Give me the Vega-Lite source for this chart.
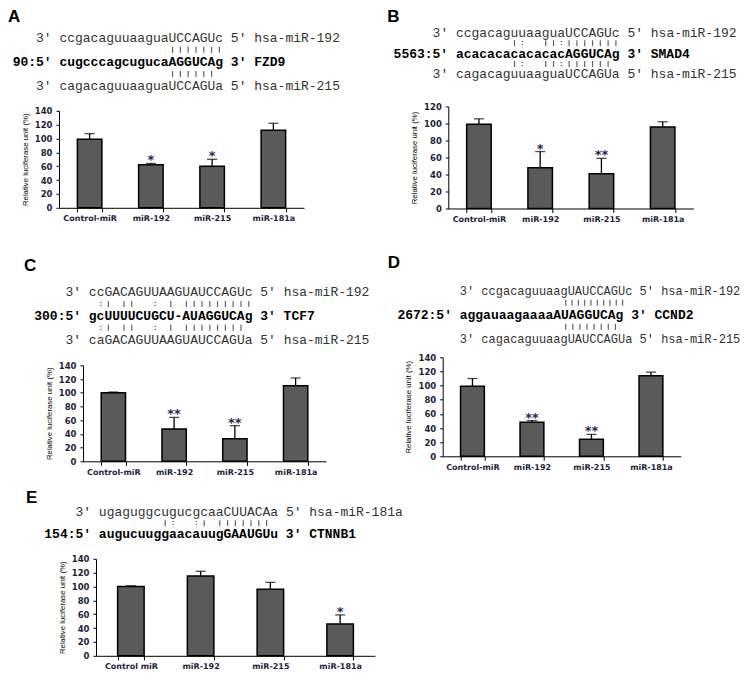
{
  "$schema": "https://vega.github.io/schema/vega-lite/v6.json",
  "padding": {"left": 7, "top": 6.8, "right": 0, "bottom": 0},
  "config": {
    "view": {"stroke": null},
    "axis": {"grid": false, "domainColor": "#000", "tickColor": "#000", "labelFont": "DejaVu Sans", "labelFontWeight": "bold", "labelColor": "#1e1e3c", "titleFont": "Liberation Sans", "titleFontWeight": "normal", "titleColor": "#000"},
    "axisX": {"labelFontSize": 8, "tickSize": 4, "labelPadding": 3, "labelAngle": 0},
    "axisY": {"labelFontSize": 8.5, "tickSize": 3, "labelPadding": 4, "titleFontSize": 7.8, "titlePadding": 5, "labelOverlap": false},
    "title": {"font": "Liberation Sans", "fontSize": 17, "fontWeight": "bold", "color": "#000", "anchor": "start", "frame": "bounds", "baseline": "bottom"}
  },
  "datasets": {
    "seqA": [
      {"row": 0, "col": 3, "kind": "miRNA", "text": "3' ccgacaguuaaguaUCCAGUc 5' hsa-miR-192"},
      {"row": 2, "col": 0, "kind": "target", "text": "90:5' cugcccagcugucaAGGUCAg 3' FZD9"},
      {"row": 4, "col": 3, "kind": "miRNA", "text": "3' cagacaguuaaguaUCCAGUa 5' hsa-miR-215"},
      {"row": 1, "col": 20.5, "kind": "pair", "text": "|"}, {"row": 1, "col": 21.5, "kind": "pair", "text": "|"}, {"row": 1, "col": 22.5, "kind": "pair", "text": "|"}, {"row": 1, "col": 23.5, "kind": "pair", "text": "|"}, {"row": 1, "col": 24.5, "kind": "pair", "text": "|"}, {"row": 1, "col": 25.5, "kind": "pair", "text": "|"}, {"row": 1, "col": 26.5, "kind": "pair", "text": "|"},
      {"row": 3, "col": 20.5, "kind": "pair", "text": "|"}, {"row": 3, "col": 21.5, "kind": "pair", "text": "|"}, {"row": 3, "col": 22.5, "kind": "pair", "text": "|"}, {"row": 3, "col": 23.5, "kind": "pair", "text": "|"}, {"row": 3, "col": 24.5, "kind": "pair", "text": "|"}, {"row": 3, "col": 25.5, "kind": "pair", "text": "|"}
    ],
    "seqB": [
      {"row": 0, "col": 5, "kind": "miRNA", "text": "3' ccgacaguuaaguaUCCAGUc 5' hsa-miR-192"},
      {"row": 2, "col": 0, "kind": "target", "text": "5563:5' acacacacacacacAGGUCAg 3' SMAD4"},
      {"row": 4, "col": 5, "kind": "miRNA", "text": "3' cagacaguuaaguaUCCAGUa 5' hsa-miR-215"},
      {"row": 1, "col": 15.5, "kind": "pair", "text": "|"}, {"row": 1, "col": 16.5, "kind": "pair", "text": ":"}, {"row": 1, "col": 19.5, "kind": "pair", "text": "|"}, {"row": 1, "col": 20.5, "kind": "pair", "text": "|"}, {"row": 1, "col": 21.5, "kind": "pair", "text": ":"},
      {"row": 1, "col": 22.5, "kind": "pair", "text": "|"}, {"row": 1, "col": 23.5, "kind": "pair", "text": "|"}, {"row": 1, "col": 24.5, "kind": "pair", "text": "|"}, {"row": 1, "col": 25.5, "kind": "pair", "text": "|"}, {"row": 1, "col": 26.5, "kind": "pair", "text": "|"}, {"row": 1, "col": 27.5, "kind": "pair", "text": "|"}, {"row": 1, "col": 28.5, "kind": "pair", "text": "|"},
      {"row": 3, "col": 15.5, "kind": "pair", "text": "|"}, {"row": 3, "col": 16.5, "kind": "pair", "text": ":"}, {"row": 3, "col": 19.5, "kind": "pair", "text": "|"}, {"row": 3, "col": 20.5, "kind": "pair", "text": "|"}, {"row": 3, "col": 21.5, "kind": "pair", "text": ":"},
      {"row": 3, "col": 22.5, "kind": "pair", "text": "|"}, {"row": 3, "col": 23.5, "kind": "pair", "text": "|"}, {"row": 3, "col": 24.5, "kind": "pair", "text": "|"}, {"row": 3, "col": 25.5, "kind": "pair", "text": "|"}, {"row": 3, "col": 26.5, "kind": "pair", "text": "|"}, {"row": 3, "col": 27.5, "kind": "pair", "text": "|"}
    ],
    "seqC": [
      {"row": 0, "col": 4, "kind": "miRNA", "text": "3' ccGACAGUUAAGUAUCCAGUc 5' hsa-miR-192"},
      {"row": 2, "col": 0, "kind": "target", "text": "300:5' gcUUUUCUGCU-AUAGGUCAg 3' TCF7"},
      {"row": 4, "col": 4, "kind": "miRNA", "text": "3' caGACAGUUAAGUAUCCAGUa 5' hsa-miR-215"},
      {"row": 1, "col": 8.5, "kind": "pair", "text": ":"}, {"row": 1, "col": 9.5, "kind": "pair", "text": "|"}, {"row": 1, "col": 11.5, "kind": "pair", "text": "|"}, {"row": 1, "col": 12.5, "kind": "pair", "text": "|"}, {"row": 1, "col": 15.5, "kind": "pair", "text": ":"}, {"row": 1, "col": 17.5, "kind": "pair", "text": "|"},
      {"row": 1, "col": 19.5, "kind": "pair", "text": "|"}, {"row": 1, "col": 20.5, "kind": "pair", "text": "|"}, {"row": 1, "col": 21.5, "kind": "pair", "text": "|"}, {"row": 1, "col": 22.5, "kind": "pair", "text": "|"}, {"row": 1, "col": 23.5, "kind": "pair", "text": "|"}, {"row": 1, "col": 24.5, "kind": "pair", "text": "|"}, {"row": 1, "col": 25.5, "kind": "pair", "text": "|"}, {"row": 1, "col": 26.5, "kind": "pair", "text": "|"}, {"row": 1, "col": 27.5, "kind": "pair", "text": "|"},
      {"row": 3, "col": 8.5, "kind": "pair", "text": ":"}, {"row": 3, "col": 9.5, "kind": "pair", "text": "|"}, {"row": 3, "col": 11.5, "kind": "pair", "text": "|"}, {"row": 3, "col": 12.5, "kind": "pair", "text": "|"}, {"row": 3, "col": 15.5, "kind": "pair", "text": ":"}, {"row": 3, "col": 17.5, "kind": "pair", "text": "|"},
      {"row": 3, "col": 19.5, "kind": "pair", "text": "|"}, {"row": 3, "col": 20.5, "kind": "pair", "text": "|"}, {"row": 3, "col": 21.5, "kind": "pair", "text": "|"}, {"row": 3, "col": 22.5, "kind": "pair", "text": "|"}, {"row": 3, "col": 23.5, "kind": "pair", "text": "|"}, {"row": 3, "col": 24.5, "kind": "pair", "text": "|"}, {"row": 3, "col": 25.5, "kind": "pair", "text": "|"}, {"row": 3, "col": 26.5, "kind": "pair", "text": "|"}
    ],
    "seqD": [
      {"row": 0, "col": 8, "kind": "miRNA", "text": "3' ccgacaguuaagUAUCCAGUc 5' hsa-miR-192"},
      {"row": 2, "col": 0, "kind": "target", "text": "2672:5' aggauaagaaaaAUAGGUCAg 3' CCND2"},
      {"row": 4, "col": 8, "kind": "miRNA", "text": "3' cagacaguuaagUAUCCAGUa 5' hsa-miR-215"},
      {"row": 1, "col": 21.58, "kind": "pair", "text": "|"}, {"row": 1, "col": 22.39, "kind": "pair", "text": "|"}, {"row": 1, "col": 23.2, "kind": "pair", "text": "|"}, {"row": 1, "col": 24.01, "kind": "pair", "text": "|"}, {"row": 1, "col": 24.82, "kind": "pair", "text": "|"}, {"row": 1, "col": 25.63, "kind": "pair", "text": "|"}, {"row": 1, "col": 26.44, "kind": "pair", "text": "|"}, {"row": 1, "col": 27.25, "kind": "pair", "text": "|"}, {"row": 1, "col": 28.06, "kind": "pair", "text": "|"}, {"row": 1, "col": 28.87, "kind": "pair", "text": "|"},
      {"row": 3, "col": 21.58, "kind": "pair", "text": "|"}, {"row": 3, "col": 22.49, "kind": "pair", "text": "|"}, {"row": 3, "col": 23.4, "kind": "pair", "text": "|"}, {"row": 3, "col": 24.31, "kind": "pair", "text": "|"}, {"row": 3, "col": 25.22, "kind": "pair", "text": "|"}, {"row": 3, "col": 26.13, "kind": "pair", "text": "|"}, {"row": 3, "col": 27.04, "kind": "pair", "text": "|"}, {"row": 3, "col": 27.95, "kind": "pair", "text": "|"}
    ],
    "seqE": [
      {"row": 0, "col": 4, "kind": "miRNA", "text": "3' ugaguggcugucgcaaCUUACAa 5' hsa-miR-181a"},
      {"row": 2, "col": 0, "kind": "target", "text": "154:5' augucuuggaacauugGAAUGUu 3' CTNNB1"},
      {"row": 1, "col": 15.5, "kind": "pair", "text": "|"}, {"row": 1, "col": 16.5, "kind": "pair", "text": ":"}, {"row": 1, "col": 19.5, "kind": "pair", "text": ":"}, {"row": 1, "col": 20.5, "kind": "pair", "text": "|"},
      {"row": 1, "col": 22.5, "kind": "pair", "text": "|"}, {"row": 1, "col": 23.5, "kind": "pair", "text": "|"}, {"row": 1, "col": 24.5, "kind": "pair", "text": "|"}, {"row": 1, "col": 25.5, "kind": "pair", "text": "|"}, {"row": 1, "col": 26.5, "kind": "pair", "text": "|"}, {"row": 1, "col": 27.5, "kind": "pair", "text": "|"}, {"row": 1, "col": 28.5, "kind": "pair", "text": "|"}
    ],
    "barsA": [
      {"treatment": "Control-miR", "value": 99, "upper": 107, "sig": ""},
      {"treatment": "miR-192", "value": 62, "upper": 64, "sig": "*"},
      {"treatment": "miR-215", "value": 60, "upper": 70, "sig": "*"},
      {"treatment": "miR-181a", "value": 112, "upper": 122, "sig": ""}
    ],
    "barsB": [
      {"treatment": "Control-miR", "value": 99, "upper": 105.5, "sig": ""},
      {"treatment": "miR-192", "value": 48, "upper": 67, "sig": "*"},
      {"treatment": "miR-215", "value": 41, "upper": 59, "sig": "**"},
      {"treatment": "miR-181a", "value": 96, "upper": 102, "sig": ""}
    ],
    "barsC": [
      {"treatment": "Control-miR", "value": 100, "upper": 101, "sig": ""},
      {"treatment": "miR-192", "value": 47, "upper": 64, "sig": "**"},
      {"treatment": "miR-215", "value": 33, "upper": 52, "sig": "**"},
      {"treatment": "miR-181a", "value": 110, "upper": 121.5, "sig": ""}
    ],
    "barsD": [
      {"treatment": "Control-miR", "value": 99, "upper": 110, "sig": ""},
      {"treatment": "miR-192", "value": 48, "upper": 50.5, "sig": "**"},
      {"treatment": "miR-215", "value": 24, "upper": 31, "sig": "**"},
      {"treatment": "miR-181a", "value": 114, "upper": 119, "sig": ""}
    ],
    "barsE": [
      {"treatment": "Control miR", "value": 100, "upper": 101, "sig": ""},
      {"treatment": "miR-192", "value": 115, "upper": 122, "sig": ""},
      {"treatment": "miR-215", "value": 96, "upper": 106, "sig": ""},
      {"treatment": "miR-181a", "value": 46, "upper": 59, "sig": "*"}
    ]
  },
  "spacing": 12,
  "vconcat": [
    {
      "spacing": 29.5,
      "vconcat": [
        {
          "spacing": 46.3,
          "hconcat": [
            {
              "title": {"text": "A", "dx": -4.7, "offset": 6.2},
              "bounds": "flush",
              "spacing": 24,
              "vconcat": [
                {
                  "width": 245, "height": 48.3,
                  "data": {"name": "seqA"},
                  "encoding": {
                    "x": {"field": "col", "type": "quantitative", "scale": {"domain": [5.94, 37.35], "nice": false, "zero": false}, "axis": null},
                    "y": {"field": "row", "type": "quantitative", "scale": {"domain": [4, 0], "nice": false, "zero": false}, "axis": null}
                  },
                  "layer": [
                    {"transform": [{"filter": "datum.kind == 'miRNA'"}], "mark": {"type": "text", "align": "left", "baseline": "middle", "font": "Liberation Mono", "fontSize": 13, "color": "#333"}, "encoding": {"text": {"field": "text"}}},
                    {"transform": [{"filter": "datum.kind == 'target'"}], "mark": {"type": "text", "align": "left", "baseline": "middle", "font": "Liberation Mono", "fontSize": 13, "fontWeight": "bold", "color": "#000"}, "encoding": {"text": {"field": "text"}}},
                    {"transform": [{"filter": "datum.kind == 'pair' && datum.text == '|'"}], "mark": {"type": "tick", "orient": "vertical", "size": 6, "thickness": 1.2, "color": "#222"}},
                    {"transform": [{"filter": "datum.kind == 'pair' && datum.text == ':'"}], "mark": {"type": "text", "align": "center", "baseline": "middle", "font": "Liberation Mono", "fontSize": 7, "fontWeight": "bold", "color": "#222"}, "encoding": {"text": {"field": "text"}}}
                  ]
                },
                {
                  "width": 245, "height": 97,
                  "data": {"name": "barsA"},
                  "encoding": {
                    "x": {"field": "treatment", "type": "nominal", "sort": null, "scale": {"paddingInner": 0.6, "paddingOuter": 0.3}, "axis": {"tickBand": "extent", "title": null}}
                  },
                  "layer": [
                    {"mark": {"type": "bar", "fill": "#5a5a5a", "stroke": "#000", "strokeWidth": 1.5}, "encoding": {"y": {"field": "value", "type": "quantitative", "title": "Relative luciferase unit (%)", "scale": {"domain": [0, 140], "nice": false}, "axis": {"values": [0, 20, 40, 60, 80, 100, 120, 140]}}}},
                    {"mark": {"type": "rule", "color": "#000", "strokeWidth": 1.3}, "encoding": {"y": {"field": "value", "type": "quantitative", "title": "Relative luciferase unit (%)", "scale": {"domain": [0, 140], "nice": false}, "axis": {"values": [0, 20, 40, 60, 80, 100, 120, 140]}}, "y2": {"field": "upper"}}},
                    {"mark": {"type": "tick", "color": "#000", "thickness": 1.3, "size": 10}, "encoding": {"y": {"field": "upper", "type": "quantitative", "title": "Relative luciferase unit (%)", "scale": {"domain": [0, 140], "nice": false}, "axis": {"values": [0, 20, 40, 60, 80, 100, 120, 140]}}}},
                    {"mark": {"type": "text", "font": "DejaVu Sans", "fontWeight": "bold", "fontSize": 13, "color": "#2b2352", "baseline": "alphabetic", "dy": 1}, "encoding": {"y": {"field": "upper", "type": "quantitative", "title": "Relative luciferase unit (%)", "scale": {"domain": [0, 140], "nice": false}, "axis": {"values": [0, 20, 40, 60, 80, 100, 120, 140]}}, "text": {"field": "sig"}}}
                  ]
                }
              ]
            },
            {
              "title": {"text": "B", "dx": -6.3, "offset": 1.2},
              "bounds": "flush",
              "spacing": 26.7,
              "vconcat": [
                {
                  "width": 245, "height": 41.6,
                  "data": {"name": "seqB"},
                  "encoding": {
                    "x": {"field": "col", "type": "quantitative", "scale": {"domain": [7.01, 38.42], "nice": false, "zero": false}, "axis": null},
                    "y": {"field": "row", "type": "quantitative", "scale": {"domain": [4.48, 0.48], "nice": false, "zero": false}, "axis": null}
                  },
                  "layer": [
                    {"transform": [{"filter": "datum.kind == 'miRNA'"}], "mark": {"type": "text", "align": "left", "baseline": "middle", "font": "Liberation Mono", "fontSize": 13, "color": "#333"}, "encoding": {"text": {"field": "text"}}},
                    {"transform": [{"filter": "datum.kind == 'target'"}], "mark": {"type": "text", "align": "left", "baseline": "middle", "font": "Liberation Mono", "fontSize": 13, "fontWeight": "bold", "color": "#000"}, "encoding": {"text": {"field": "text"}}},
                    {"transform": [{"filter": "datum.kind == 'pair' && datum.text == '|'"}], "mark": {"type": "tick", "orient": "vertical", "size": 6, "thickness": 1.2, "color": "#222"}},
                    {"transform": [{"filter": "datum.kind == 'pair' && datum.text == ':'"}], "mark": {"type": "text", "align": "center", "baseline": "middle", "font": "Liberation Mono", "fontSize": 7, "fontWeight": "bold", "color": "#222"}, "encoding": {"text": {"field": "text"}}}
                  ]
                },
                {
                  "width": 245, "height": 102,
                  "data": {"name": "barsB"},
                  "encoding": {
                    "x": {"field": "treatment", "type": "nominal", "sort": null, "scale": {"paddingInner": 0.6, "paddingOuter": 0.3}, "axis": {"tickBand": "extent", "title": null}}
                  },
                  "layer": [
                    {"mark": {"type": "bar", "fill": "#5a5a5a", "stroke": "#000", "strokeWidth": 1.5}, "encoding": {"y": {"field": "value", "type": "quantitative", "title": "Relative luciferase unit (%)", "scale": {"domain": [0, 120], "nice": false}, "axis": {"values": [0, 20, 40, 60, 80, 100, 120]}}}},
                    {"mark": {"type": "rule", "color": "#000", "strokeWidth": 1.3}, "encoding": {"y": {"field": "value", "type": "quantitative", "title": "Relative luciferase unit (%)", "scale": {"domain": [0, 120], "nice": false}, "axis": {"values": [0, 20, 40, 60, 80, 100, 120]}}, "y2": {"field": "upper"}}},
                    {"mark": {"type": "tick", "color": "#000", "thickness": 1.3, "size": 10}, "encoding": {"y": {"field": "upper", "type": "quantitative", "title": "Relative luciferase unit (%)", "scale": {"domain": [0, 120], "nice": false}, "axis": {"values": [0, 20, 40, 60, 80, 100, 120]}}}},
                    {"mark": {"type": "text", "font": "DejaVu Sans", "fontWeight": "bold", "fontSize": 13, "color": "#2b2352", "baseline": "alphabetic", "dy": 1}, "encoding": {"y": {"field": "upper", "type": "quantitative", "title": "Relative luciferase unit (%)", "scale": {"domain": [0, 120], "nice": false}, "axis": {"values": [0, 20, 40, 60, 80, 100, 120]}}, "text": {"field": "sig"}}}
                  ]
                }
              ]
            }
          ]
        },
        {
          "spacing": 16.7,
          "hconcat": [
            {
              "title": {"text": "C", "dx": -10.3, "offset": 11.2},
              "bounds": "flush",
              "spacing": 25,
              "vconcat": [
                {
                  "width": 267, "height": 47.3,
                  "data": {"name": "seqC"},
                  "encoding": {
                    "x": {"field": "col", "type": "quantitative", "scale": {"domain": [3.17, 37.4], "nice": false, "zero": false}, "axis": null},
                    "y": {"field": "row", "type": "quantitative", "scale": {"domain": [4, 0], "nice": false, "zero": false}, "axis": null}
                  },
                  "layer": [
                    {"transform": [{"filter": "datum.kind == 'miRNA'"}], "mark": {"type": "text", "align": "left", "baseline": "middle", "font": "Liberation Mono", "fontSize": 13, "color": "#333"}, "encoding": {"text": {"field": "text"}}},
                    {"transform": [{"filter": "datum.kind == 'target'"}], "mark": {"type": "text", "align": "left", "baseline": "middle", "font": "Liberation Mono", "fontSize": 13, "fontWeight": "bold", "color": "#000"}, "encoding": {"text": {"field": "text"}}},
                    {"transform": [{"filter": "datum.kind == 'pair' && datum.text == '|'"}], "mark": {"type": "tick", "orient": "vertical", "size": 6, "thickness": 1.2, "color": "#222"}},
                    {"transform": [{"filter": "datum.kind == 'pair' && datum.text == ':'"}], "mark": {"type": "text", "align": "center", "baseline": "middle", "font": "Liberation Mono", "fontSize": 7, "fontWeight": "bold", "color": "#222"}, "encoding": {"text": {"field": "text"}}}
                  ]
                },
                {
                  "width": 267, "height": 96,
                  "data": {"name": "barsC"},
                  "encoding": {
                    "x": {"field": "treatment", "type": "nominal", "sort": null, "scale": {"paddingInner": 0.6, "paddingOuter": 0.3, "range": [24, 267]}, "axis": {"tickBand": "extent", "title": null}}
                  },
                  "layer": [
                    {"mark": {"type": "bar", "fill": "#5a5a5a", "stroke": "#000", "strokeWidth": 1.5}, "encoding": {"y": {"field": "value", "type": "quantitative", "title": "Relative luciferase unit (%)", "scale": {"domain": [0, 140], "nice": false}, "axis": {"values": [0, 20, 40, 60, 80, 100, 120, 140], "offset": -24}}}},
                    {"mark": {"type": "rule", "color": "#000", "strokeWidth": 1.3}, "encoding": {"y": {"field": "value", "type": "quantitative", "title": "Relative luciferase unit (%)", "scale": {"domain": [0, 140], "nice": false}, "axis": {"values": [0, 20, 40, 60, 80, 100, 120, 140], "offset": -24}}, "y2": {"field": "upper"}}},
                    {"mark": {"type": "tick", "color": "#000", "thickness": 1.3, "size": 10}, "encoding": {"y": {"field": "upper", "type": "quantitative", "title": "Relative luciferase unit (%)", "scale": {"domain": [0, 140], "nice": false}, "axis": {"values": [0, 20, 40, 60, 80, 100, 120, 140], "offset": -24}}}},
                    {"mark": {"type": "text", "font": "DejaVu Sans", "fontWeight": "bold", "fontSize": 13, "color": "#2b2352", "baseline": "alphabetic", "dy": 1}, "encoding": {"y": {"field": "upper", "type": "quantitative", "title": "Relative luciferase unit (%)", "scale": {"domain": [0, 140], "nice": false}, "axis": {"values": [0, 20, 40, 60, 80, 100, 120, 140], "offset": -24}}, "text": {"field": "sig"}}}
                  ]
                }
              ]
            },
            {
              "title": {"text": "D", "dx": -9.7, "offset": 12.8},
              "bounds": "flush",
              "spacing": 16,
              "vconcat": [
                {
                  "width": 238, "height": 48.3,
                  "data": {"name": "seqD"},
                  "encoding": {
                    "x": {"field": "col", "type": "quantitative", "scale": {"domain": [5.81, 36.32], "nice": false, "zero": false}, "axis": null},
                    "y": {"field": "row", "type": "quantitative", "scale": {"domain": [4.14, 0.14], "nice": false, "zero": false}, "axis": null}
                  },
                  "layer": [
                    {"transform": [{"filter": "datum.kind == 'miRNA'"}], "mark": {"type": "text", "align": "left", "baseline": "middle", "font": "Liberation Mono", "fontSize": 12, "color": "#333"}, "encoding": {"text": {"field": "text"}}},
                    {"transform": [{"filter": "datum.kind == 'target'"}], "mark": {"type": "text", "align": "left", "baseline": "middle", "font": "Liberation Mono", "fontSize": 13, "fontWeight": "bold", "color": "#000"}, "encoding": {"text": {"field": "text"}}},
                    {"transform": [{"filter": "datum.kind == 'pair' && datum.text == '|'"}], "mark": {"type": "tick", "orient": "vertical", "size": 6, "thickness": 1.2, "color": "#222"}}
                  ]
                },
                {
                  "width": 238, "height": 99,
                  "data": {"name": "barsD"},
                  "encoding": {
                    "x": {"field": "treatment", "type": "nominal", "sort": null, "scale": {"paddingInner": 0.6, "paddingOuter": 0.3}, "axis": {"tickBand": "extent", "title": null}}
                  },
                  "layer": [
                    {"mark": {"type": "bar", "fill": "#5a5a5a", "stroke": "#000", "strokeWidth": 1.5}, "encoding": {"y": {"field": "value", "type": "quantitative", "title": "Relative luciferase unit (%)", "scale": {"domain": [0, 140], "nice": false}, "axis": {"values": [0, 20, 40, 60, 80, 100, 120, 140]}}}},
                    {"mark": {"type": "rule", "color": "#000", "strokeWidth": 1.3}, "encoding": {"y": {"field": "value", "type": "quantitative", "title": "Relative luciferase unit (%)", "scale": {"domain": [0, 140], "nice": false}, "axis": {"values": [0, 20, 40, 60, 80, 100, 120, 140]}}, "y2": {"field": "upper"}}},
                    {"mark": {"type": "tick", "color": "#000", "thickness": 1.3, "size": 10}, "encoding": {"y": {"field": "upper", "type": "quantitative", "title": "Relative luciferase unit (%)", "scale": {"domain": [0, 140], "nice": false}, "axis": {"values": [0, 20, 40, 60, 80, 100, 120, 140]}}}},
                    {"mark": {"type": "text", "font": "DejaVu Sans", "fontWeight": "bold", "fontSize": 13, "color": "#2b2352", "baseline": "alphabetic", "dy": 1}, "encoding": {"y": {"field": "upper", "type": "quantitative", "title": "Relative luciferase unit (%)", "scale": {"domain": [0, 140], "nice": false}, "axis": {"values": [0, 20, 40, 60, 80, 100, 120, 140]}}, "text": {"field": "sig"}}}
                  ]
                }
              ]
            }
          ]
        }
      ]
    },
    {
      "title": {"text": "E", "dx": -18.3, "offset": -1.5},
      "bounds": "flush",
      "spacing": 24,
      "vconcat": [
        {
          "width": 316, "height": 22.7,
          "data": {"name": "seqE"},
          "encoding": {
            "x": {"field": "col", "type": "quantitative", "scale": {"domain": [1.885, 42.4], "nice": false, "zero": false}, "axis": null},
            "y": {"field": "row", "type": "quantitative", "scale": {"domain": [2, 0], "nice": false, "zero": false}, "axis": null}
          },
          "layer": [
            {"transform": [{"filter": "datum.kind == 'miRNA'"}], "mark": {"type": "text", "align": "left", "baseline": "middle", "font": "Liberation Mono", "fontSize": 13, "color": "#333"}, "encoding": {"text": {"field": "text"}}},
            {"transform": [{"filter": "datum.kind == 'target'"}], "mark": {"type": "text", "align": "left", "baseline": "middle", "font": "Liberation Mono", "fontSize": 13, "fontWeight": "bold", "color": "#000"}, "encoding": {"text": {"field": "text"}}},
            {"transform": [{"filter": "datum.kind == 'pair' && datum.text == '|'"}], "mark": {"type": "tick", "orient": "vertical", "size": 6, "thickness": 1.2, "color": "#222"}},
            {"transform": [{"filter": "datum.kind == 'pair' && datum.text == ':'"}], "mark": {"type": "text", "align": "center", "baseline": "middle", "font": "Liberation Mono", "fontSize": 7, "fontWeight": "bold", "color": "#222"}, "encoding": {"text": {"field": "text"}}}
          ]
        },
        {
          "width": 316, "height": 97,
          "data": {"name": "barsE"},
          "encoding": {
            "x": {"field": "treatment", "type": "nominal", "sort": null, "scale": {"paddingInner": 0.62, "paddingOuter": 0.31, "range": [37, 316]}, "axis": {"tickBand": "extent", "title": null}}
          },
          "layer": [
            {"mark": {"type": "bar", "fill": "#5a5a5a", "stroke": "#000", "strokeWidth": 1.5}, "encoding": {"y": {"field": "value", "type": "quantitative", "title": "Relative luciferase unit (%)", "scale": {"domain": [0, 140], "nice": false}, "axis": {"values": [0, 20, 40, 60, 80, 100, 120, 140], "offset": -37}}}},
            {"mark": {"type": "rule", "color": "#000", "strokeWidth": 1.3}, "encoding": {"y": {"field": "value", "type": "quantitative", "title": "Relative luciferase unit (%)", "scale": {"domain": [0, 140], "nice": false}, "axis": {"values": [0, 20, 40, 60, 80, 100, 120, 140], "offset": -37}}, "y2": {"field": "upper"}}},
            {"mark": {"type": "tick", "color": "#000", "thickness": 1.3, "size": 10}, "encoding": {"y": {"field": "upper", "type": "quantitative", "title": "Relative luciferase unit (%)", "scale": {"domain": [0, 140], "nice": false}, "axis": {"values": [0, 20, 40, 60, 80, 100, 120, 140], "offset": -37}}}},
            {"mark": {"type": "text", "font": "DejaVu Sans", "fontWeight": "bold", "fontSize": 13, "color": "#2b2352", "baseline": "alphabetic", "dy": 1}, "encoding": {"y": {"field": "upper", "type": "quantitative", "title": "Relative luciferase unit (%)", "scale": {"domain": [0, 140], "nice": false}, "axis": {"values": [0, 20, 40, 60, 80, 100, 120, 140], "offset": -37}}, "text": {"field": "sig"}}}
          ]
        }
      ]
    }
  ]
}
